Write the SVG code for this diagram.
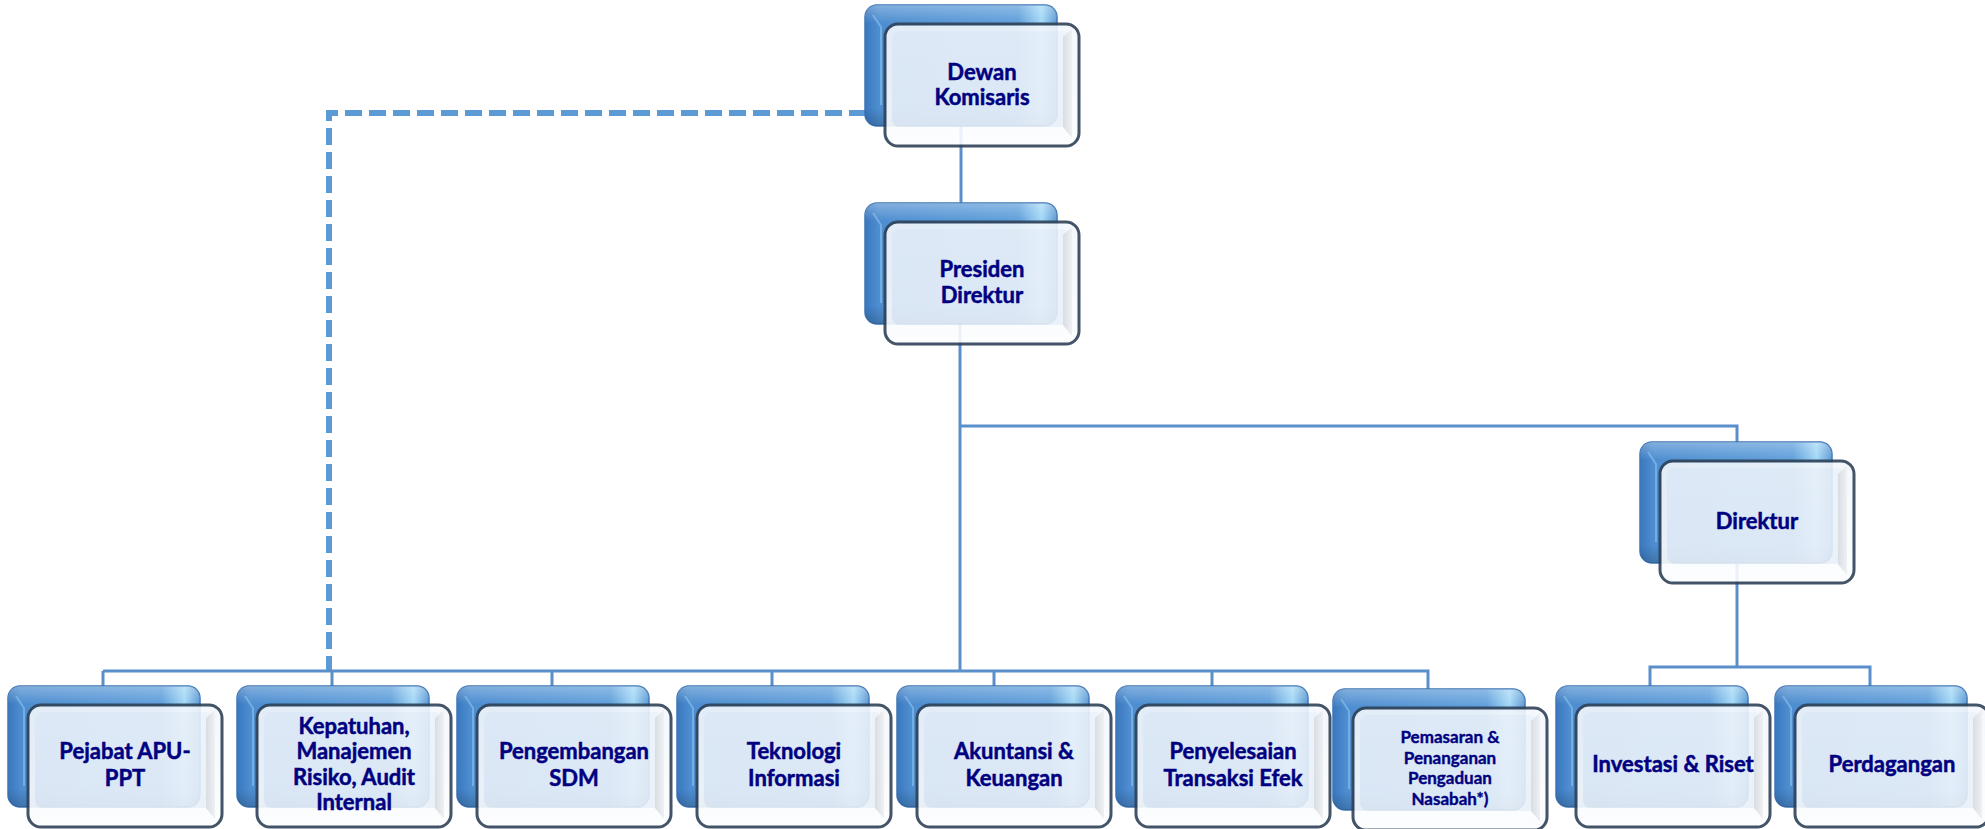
<svg xmlns="http://www.w3.org/2000/svg" xmlns:xlink="http://www.w3.org/1999/xlink" width="1985" height="829" viewBox="0 0 1985 829">
<style>
.conn{fill:none;stroke:#5B8FCB;stroke-width:3}
.dash{fill:none;stroke:#5B9BD5;stroke-width:6;stroke-dasharray:17 7}
.lbl{font-family:Lato,"Noto Sans","DejaVu Sans",sans-serif;font-weight:bold;font-size:22px;fill:#000080;stroke:#000080;stroke-width:0.5;text-anchor:middle}
.sm{font-size:17px;stroke-width:0.4}
</style>
<defs>
<linearGradient id="backG" x1="0" y1="0" x2="1" y2="0">
<stop offset="0" stop-color="#3A78BF"/>
<stop offset="0.07" stop-color="#4D8DD0"/>
<stop offset="0.8" stop-color="#5F9FDB"/>
<stop offset="0.92" stop-color="#A3D8F6"/>
<stop offset="1" stop-color="#5A97D3"/>
</linearGradient>
<linearGradient id="backV" x1="0" y1="0" x2="0" y2="1">
<stop offset="0" stop-color="#FFFFFF" stop-opacity="0.3"/>
<stop offset="0.15" stop-color="#FFFFFF" stop-opacity="0"/>
<stop offset="0.85" stop-color="#000000" stop-opacity="0"/>
<stop offset="1" stop-color="#000000" stop-opacity="0.18"/>
</linearGradient>
<linearGradient id="frontG" x1="0" y1="0" x2="0" y2="1">
<stop offset="0" stop-color="#F3F7FC"/>
<stop offset="1" stop-color="#FCFDFE"/>
</linearGradient>
<linearGradient id="panelG" x1="0" y1="0" x2="0" y2="1">
<stop offset="0" stop-color="#ECF2FA"/>
<stop offset="1" stop-color="#E9F0F9"/>
</linearGradient>
<linearGradient id="rightG" x1="0" y1="0" x2="1" y2="0">
<stop offset="0" stop-color="#D5DAE0"/>
<stop offset="1" stop-color="#EEF0F3"/>
</linearGradient>
<g id="shape">
<rect x="0" y="0" width="192" height="121" rx="12" fill="url(#backG)" stroke="#3D75B5" stroke-width="1.5"/>
<rect x="0" y="0" width="192" height="121" rx="12" fill="url(#backV)"/>
<path d="M8 10 L16 22 L16 100" fill="none" stroke="#8EC3EC" stroke-width="2" opacity="0.6"/>
<g opacity="0.9">
<rect x="20" y="19" width="194" height="122" rx="13" fill="url(#frontG)" stroke="#2F4259" stroke-width="3"/>
<rect x="27" y="26" width="178" height="96" rx="8" fill="url(#panelG)"/>
<path d="M198 32 L207 24 L207 133 L198 122 Z" fill="url(#rightG)"/>
</g>
</g>
</defs>

<g id="connectors">
<path class="dash" d="M866 113 H329 V671"/>
<path class="conn" d="M961 60 V222"/>
<path class="conn" d="M960 300 V671"/>
<path class="conn" d="M960 426 H1737 V442"/>
<path class="conn" d="M103 671 H1428 V689"/>
<path class="conn" d="M103 671 V686 M332 671 V686 M552 671 V686 M772 671 V686 M994 671 V686 M1212 671 V686"/>
<path class="conn" d="M1737 540 V667"/>
<path class="conn" d="M1650 686 V667 H1870 V686"/>
</g>

<g id="dewan-komisaris" transform="translate(865,5)">
<use xlink:href="#shape"/>
<text class="lbl" x="117" y="75">Dewan</text>
<text class="lbl" x="117" y="100">Komisaris</text>
</g>
<g id="presiden-direktur" transform="translate(865,203)">
<use xlink:href="#shape"/>
<text class="lbl" x="117" y="74">Presiden</text>
<text class="lbl" x="117" y="100">Direktur</text>
</g>
<g id="direktur" transform="translate(1640,442)">
<use xlink:href="#shape"/>
<text class="lbl" x="117" y="87">Direktur</text>
</g>
<g id="pejabat-apu-ppt" transform="translate(8,686)">
<use xlink:href="#shape"/>
<text class="lbl" x="117" y="73">Pejabat APU-</text>
<text class="lbl" x="117" y="100">PPT</text>
</g>
<g id="kepatuhan" transform="translate(237,686)">
<use xlink:href="#shape"/>
<text class="lbl" x="117" y="48">Kepatuhan,</text>
<text class="lbl" x="117" y="73">Manajemen</text>
<text class="lbl" x="117" y="99">Risiko, Audit</text>
<text class="lbl" x="117" y="124">Internal</text>
</g>
<g id="pengembangan-sdm" transform="translate(457,686)">
<use xlink:href="#shape"/>
<text class="lbl" x="117" y="73">Pengembangan</text>
<text class="lbl" x="117" y="100">SDM</text>
</g>
<g id="teknologi-informasi" transform="translate(677,686)">
<use xlink:href="#shape"/>
<text class="lbl" x="117" y="73">Teknologi</text>
<text class="lbl" x="117" y="100">Informasi</text>
</g>
<g id="akuntansi-keuangan" transform="translate(897,686)">
<use xlink:href="#shape"/>
<text class="lbl" x="117" y="73">Akuntansi &amp;</text>
<text class="lbl" x="117" y="100">Keuangan</text>
</g>
<g id="penyelesaian-transaksi-efek" transform="translate(1116,686)">
<use xlink:href="#shape"/>
<text class="lbl" x="117" y="73">Penyelesaian</text>
<text class="lbl" x="117" y="100">Transaksi Efek</text>
</g>
<g id="pemasaran" transform="translate(1333,689)">
<use xlink:href="#shape"/>
<text class="lbl sm" x="117" y="54">Pemasaran &amp;</text>
<text class="lbl sm" x="117" y="75">Penanganan</text>
<text class="lbl sm" x="117" y="95">Pengaduan</text>
<text class="lbl sm" x="117" y="116">Nasabah*)</text>
</g>
<g id="investasi-riset" transform="translate(1556,686)">
<use xlink:href="#shape"/>
<text class="lbl" x="117" y="86">Investasi &amp; Riset</text>
</g>
<g id="perdagangan" transform="translate(1775,686)">
<use xlink:href="#shape"/>
<text class="lbl" x="117" y="86">Perdagangan</text>
</g>
</svg>
